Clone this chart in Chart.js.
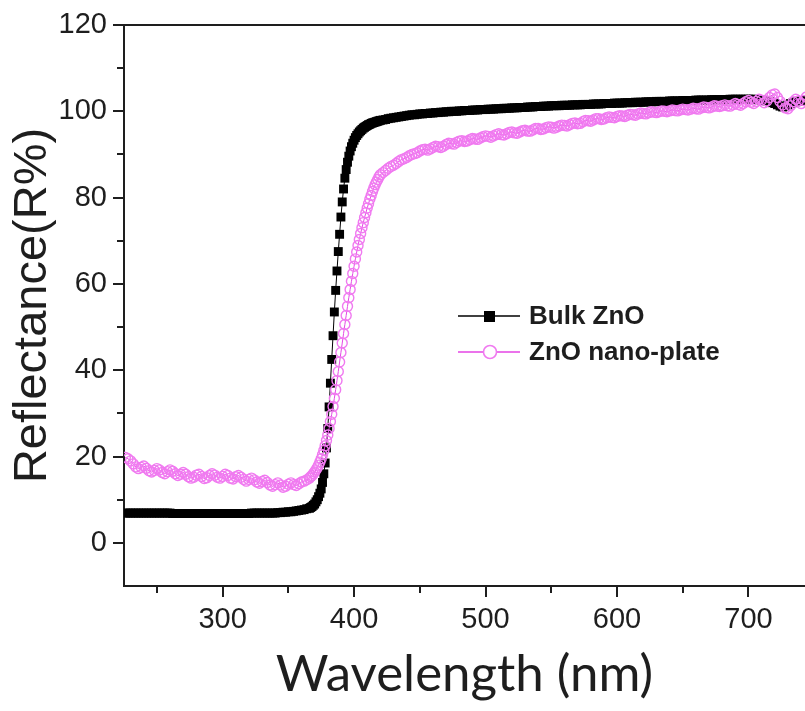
<!DOCTYPE html>
<html>
<head>
<meta charset="utf-8">
<script src="https://cdn.jsdelivr.net/npm/chart.js@4.4.1/dist/chart.umd.min.js"></script>
<style>
  html, body { margin: 0; padding: 0; background: #ffffff; }
  #wrap { width: 805px; height: 711px; }
</style>
</head>
<body>
<div id="wrap"><canvas id="c" width="805" height="711"></canvas></div>
<script>
// Wavelength sampling (nm): 2 nm steps on the plateaus, 1 nm across the absorption edge
const wavelengths = [
  226,228,230,232,234,236,238,240,242,244,246,248,250,252,254,256,258,260,
  262,264,266,268,270,272,274,276,278,280,282,284,286,288,290,292,294,296,298,300,
  302,304,306,308,310,312,314,316,318,320,322,324,326,328,330,332,334,336,338,340,
  342,344,346,348,350,352,354,356,358,360,362,364,
  366,367,368,369,370,371,372,373,374,375,376,377,378,379,380,381,382,383,384,385,
  386,387,388,389,390,391,392,393,394,395,396,397,398,399,400,401,402,403,404,405,
  406,407,408,409,410,411,412,413,414,415,416,417,418,419,420,
  422,424,426,428,430,432,434,436,438,440,
  442,444,446,448,450,452,454,456,458,460,462,464,466,468,470,472,474,476,478,480,
  482,484,486,488,490,492,494,496,498,500,502,504,506,508,510,512,514,516,518,520,
  522,524,526,528,530,532,534,536,538,540,542,544,546,548,550,552,554,556,558,560,
  562,564,566,568,570,572,574,576,578,580,582,584,586,588,590,592,594,596,598,600,
  602,604,606,608,610,612,614,616,618,620,622,624,626,628,630,632,634,636,638,640,
  642,644,646,648,650,652,654,656,658,660,662,664,666,668,670,672,674,676,678,680,
  682,684,686,688,690,692,694,696,698,700,702,704,706,708,710,712,714,716,718,720,
  722,724,726,728,730,732,734,736,738,740,742,744
];

// Reflectance (%) of bulk ZnO
const bulkZnO = [
  6.9,6.9,6.9,6.9,6.9,6.9,6.9,6.9,6.9,6.9,6.9,6.9,6.9,6.9,6.9,6.9,6.9,6.9,
  6.8,6.8,6.8,6.8,6.8,6.8,6.8,6.8,6.8,6.8,6.8,6.8,6.8,6.8,6.8,6.8,6.8,6.8,6.8,6.8,
  6.8,6.8,6.8,6.8,6.8,6.8,6.8,6.8,6.8,6.8,6.9,6.9,6.9,6.9,6.9,6.9,6.9,6.9,6.9,6.9,
  7.0,7.0,7.1,7.1,7.2,7.2,7.3,7.4,7.5,7.6,7.7,7.9,
  8.0,8.2,8.4,8.7,9.0,9.5,10.0,10.7,11.5,12.5,14.0,16.0,18.5,22.0,26.5,31.5,37.0,42.5,48.0,53.5,
  58.5,63.0,67.5,71.5,75.5,79.0,82.0,84.5,86.5,88.2,89.6,90.8,91.8,92.6,93.3,93.9,94.4,94.8,95.2,95.5,
  95.8,96.1,96.3,96.5,96.7,96.9,97.0,97.2,97.3,97.4,97.5,97.6,97.7,97.8,97.9,
  98.0,98.1,98.3,98.4,98.5,98.6,98.7,98.8,98.9,99.0,
  99.1,99.2,99.2,99.3,99.4,99.4,99.5,99.5,99.6,99.6,99.7,99.7,99.8,99.8,99.9,99.9,100.0,100.0,100.0,100.1,
  100.1,100.2,100.2,100.2,100.3,100.3,100.3,100.4,100.4,100.4,100.5,100.5,100.5,100.6,100.6,100.6,100.7,100.7,100.7,100.8,
  100.8,100.8,100.9,100.9,100.9,101.0,101.0,101.0,101.1,101.1,101.1,101.2,101.2,101.2,101.3,101.3,101.3,101.3,101.4,101.4,
  101.4,101.4,101.5,101.5,101.5,101.5,101.6,101.6,101.6,101.6,101.7,101.7,101.7,101.7,101.8,101.8,101.8,101.8,101.9,101.9,
  101.9,101.9,102.0,102.0,102.0,102.0,102.1,102.1,102.1,102.1,102.2,102.2,102.2,102.2,102.3,102.3,102.3,102.3,102.3,102.4,
  102.4,102.4,102.4,102.4,102.5,102.5,102.5,102.5,102.5,102.6,102.6,102.6,102.6,102.6,102.6,102.7,102.7,102.7,102.7,102.7,
  102.7,102.7,102.8,102.8,102.8,102.8,102.8,102.8,102.8,102.8,102.8,102.8,102.7,102.7,102.6,102.5,102.4,102.2,102.0,101.8,
  101.5,101.2,101.0,101.2,101.5,101.8,102.0,102.2,102.3,102.4,102.5,102.5
];

// Reflectance (%) of the ZnO nano-plates
const nanoPlate = [
  19.8,19.5,19.0,18.3,17.6,17.2,17.5,17.8,17.3,16.7,16.4,16.8,17.2,16.9,16.3,16.0,16.5,16.9,
  16.6,16.0,15.6,15.9,16.3,15.9,15.3,15.0,15.2,15.7,15.9,15.4,14.9,15.1,15.6,16.0,15.7,15.2,15.0,15.4,
  15.9,15.6,15.0,14.8,15.3,15.6,15.2,14.7,14.3,14.7,15.0,14.6,14.1,13.8,14.2,14.5,14.0,13.4,13.1,13.5,
  13.9,13.4,12.9,13.1,13.6,13.9,13.5,13.3,13.7,14.1,14.3,14.6,
  15.0,15.3,15.6,16.0,16.4,16.9,17.4,18.0,18.7,19.5,20.4,21.4,22.5,23.7,25.0,26.5,28.1,29.8,31.6,33.5,
  35.5,37.6,39.7,41.9,44.1,46.3,48.5,50.6,52.7,54.8,56.8,58.7,60.6,62.4,64.1,65.8,67.4,68.9,70.3,71.7,
  73.0,74.2,75.4,76.5,77.6,78.6,79.6,80.5,81.4,82.2,83.0,83.6,84.2,84.8,85.3,
  85.8,86.3,86.8,87.2,87.5,87.9,88.4,88.8,89.0,89.3,
  89.7,90.0,90.2,90.4,90.8,91.1,91.2,91.0,91.3,91.6,91.9,91.8,91.6,91.9,92.3,92.6,92.5,92.4,92.8,93.1,
  93.2,93.0,93.1,93.4,93.7,93.6,93.5,93.8,94.1,94.3,94.2,94.0,94.3,94.6,94.8,94.6,94.5,94.8,95.1,95.2,
  95.0,94.9,95.2,95.5,95.6,95.4,95.4,95.7,96.0,96.0,95.8,95.9,96.2,96.4,96.3,96.1,96.3,96.6,96.8,96.7,
  96.6,96.9,97.2,97.3,97.1,97.2,97.6,97.9,97.8,97.7,98.0,98.3,98.3,98.1,98.2,98.5,98.7,98.6,98.5,98.8,
  99.0,98.9,98.8,99.1,99.3,99.2,99.1,99.4,99.6,99.5,99.4,99.7,99.9,99.8,99.7,99.9,100.1,100.0,99.9,100.1,
  100.3,100.2,100.1,100.3,100.5,100.4,100.3,100.5,100.7,100.6,100.5,100.8,101.0,100.9,100.8,101.0,101.3,101.2,101.1,101.3,
  101.5,101.3,101.2,101.5,101.8,101.6,101.4,101.8,102.2,102.5,102.1,101.8,102.3,102.8,102.6,102.0,102.4,103.2,103.8,104.0,
  103.2,102.3,101.5,100.8,100.6,101.3,102.2,102.8,102.4,101.8,102.5,103.3
];

const seriesNames = ['Bulk ZnO', 'ZnO nano-plate'];
const xTickLabels = [300, 400, 500, 600, 700];
const yTickLabels = [0, 20, 40, 60, 80, 100, 120];

const INK = '#1e1e1e';
const PINK_LINE = '#e545e5';
const PINK_MARK = '#f07af0';

// Outward major/minor tick marks plus the top frame line
const frameTicks = {
  id: 'frameTicks',
  afterDraw(chart) {
    const { ctx, chartArea: a, scales: { x, y } } = chart;
    ctx.save();
    ctx.strokeStyle = INK;
    ctx.lineWidth = 2;
    ctx.beginPath();
    ctx.moveTo(a.left, a.top);
    ctx.lineTo(a.right, a.top);
    x.ticks.forEach(t => {
      const px = Math.round(x.getPixelForValue(t.value));
      const len = xTickLabels.includes(t.value) ? 11 : 7;
      ctx.moveTo(px, a.bottom);
      ctx.lineTo(px, a.bottom + len);
    });
    y.ticks.forEach(t => {
      if (t.value <= y.min) return;
      const py = Math.round(y.getPixelForValue(t.value));
      const len = yTickLabels.includes(t.value) ? 11 : 7;
      ctx.moveTo(a.left - len, py);
      ctx.lineTo(a.left, py);
    });
    ctx.stroke();
    ctx.restore();
  }
};

// Legend box placed inside the plot, built from the dataset styles
const insideLegend = {
  id: 'insideLegend',
  afterDatasetsDraw(chart) {
    const { ctx } = chart;
    const rows = [
      { ds: chart.data.datasets[0], y: 316 },
      { ds: chart.data.datasets[1], y: 352 }
    ];
    ctx.save();
    rows.forEach(r => {
      const ds = r.ds;
      ctx.strokeStyle = ds.borderColor;
      ctx.lineWidth = 1.5;
      ctx.beginPath();
      ctx.moveTo(458, r.y);
      ctx.lineTo(520, r.y);
      ctx.stroke();
      if (ds.pointStyle === 'rect') {
        ctx.fillStyle = ds.pointBackgroundColor;
        ctx.fillRect(484, r.y - 5, 11, 11);
      } else {
        ctx.fillStyle = '#ffffff';
        ctx.strokeStyle = ds.pointBorderColor;
        ctx.lineWidth = 1.6;
        ctx.beginPath();
        ctx.arc(490, r.y, 6.5, 0, Math.PI * 2);
        ctx.fill();
        ctx.stroke();
      }
      ctx.fillStyle = INK;
      ctx.font = 'bold 26px "Liberation Sans", Arial, sans-serif';
      ctx.textBaseline = 'middle';
      ctx.textAlign = 'left';
      ctx.fillText(ds.label, 529, r.y + 1);
    });
    ctx.restore();
  }
};

const toPoints = vals => wavelengths.map((w, i) => ({ x: w, y: vals[i] }));

new Chart(document.getElementById('c'), {
  type: 'line',
  data: {
    datasets: [
      {
        label: seriesNames[0],
        data: toPoints(bulkZnO),
        borderColor: '#000000',
        borderWidth: 1,
        pointStyle: 'rect',
        pointRadius: 6.3,
        pointBackgroundColor: '#000000',
        pointBorderWidth: 0,
        tension: 0,
        order: 2,
        clip: 0
      },
      {
        label: seriesNames[1],
        data: toPoints(nanoPlate),
        borderColor: PINK_LINE,
        borderWidth: 1,
        pointStyle: 'circle',
        pointRadius: 5,
        pointBorderColor: PINK_MARK,
        pointBackgroundColor: 'rgba(255,255,255,0)',
        pointBorderWidth: 1.4,
        tension: 0,
        order: 1,
        clip: 0
      }
    ]
  },
  options: {
    responsive: false,
    animation: false,
    devicePixelRatio: 1,
    layout: { autoPadding: false, padding: { top: 25, right: 0, left: 0, bottom: 0 } },
    plugins: { legend: { display: false }, tooltip: { enabled: false } },
    scales: {
      x: {
        type: 'linear',
        min: 225,
        max: 743,
        afterFit(scale) { scale.height = 125; scale.paddingLeft = 0; scale.paddingRight = 0; },
        grid: { display: false, drawTicks: false },
        border: { display: true, color: INK, width: 2 },
        ticks: {
          stepSize: 50,
          includeBounds: false,
          autoSkip: false,
          maxRotation: 0,
          padding: 17,
          color: INK,
          font: { family: '"Liberation Sans", Arial, sans-serif', size: 29 },
          callback: v => (xTickLabels.includes(v) ? String(v) : '')
        },
        title: {
          display: true,
          text: 'Wavelength (nm)',
          color: INK,
          font: { family: 'Lato, "Open Sans", sans-serif', size: 51 },
          padding: { top: 0, bottom: 6 }
        }
      },
      y: {
        type: 'linear',
        min: -10,
        max: 120,
        afterFit(scale) { scale.width = 124; scale.paddingTop = 0; scale.paddingBottom = 0; },
        grid: { display: false, drawTicks: false },
        border: { display: true, color: INK, width: 2 },
        ticks: {
          stepSize: 10,
          autoSkip: false,
          padding: 17,
          color: INK,
          font: { family: '"Liberation Sans", Arial, sans-serif', size: 29 },
          callback: v => (yTickLabels.includes(v) ? String(v) : '')
        },
        title: {
          display: true,
          text: 'Reflectance(R%)',
          color: INK,
          font: { family: '"Liberation Sans", Arial, sans-serif', size: 47 },
          padding: { top: 5, bottom: 0 }
        }
      }
    }
  },
  plugins: [frameTicks, insideLegend]
});
</script>
</body>
</html>
